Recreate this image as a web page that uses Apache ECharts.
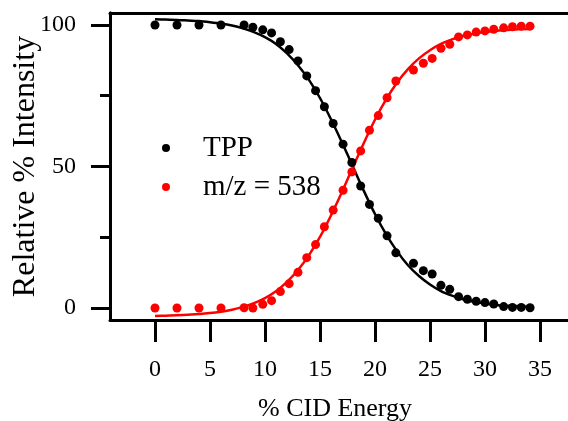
<!DOCTYPE html>
<html>
<head>
<meta charset="utf-8">
<script src="https://cdn.jsdelivr.net/npm/echarts@6/dist/echarts.min.js"></script>
<style>
  html, body { margin: 0; padding: 0; background: #fff; }
  #chart { width: 568px; height: 421px; }
</style>
</head>
<body>
<div id="chart"></div>
<script>
// Collision energy (%) at which each spectrum was recorded
const energy = [0, 2, 4, 6, 8.1, 8.9, 9.8, 10.6, 11.4, 12.2, 13.0, 13.8, 14.6, 15.4, 16.2, 17.1, 17.9, 18.7,
                19.5, 20.3, 21.1, 21.9, 23.5, 24.4, 25.2, 26.0, 26.8, 27.6, 28.4, 29.2, 30.0, 30.8, 31.7, 32.5, 33.3, 34.1];
// Relative intensity of the precursor (TPP)
const tpp = [100, 100, 100, 100, 100, 99.2, 98.3, 97.2, 94.1, 91.3, 87.3, 82.0, 76.8, 71.1, 65.2, 57.9, 51.4, 43.1,
             36.6, 31.7, 25.5, 19.5, 15.8, 13.2, 12.0, 8.0, 6.6, 4.0, 3.1, 2.4, 1.9, 1.4, 0.5, 0.2, 0.2, 0.1];
// Relative intensity of the fragment at m/z 538
const mz538 = [0, 0, 0, 0, 0.1, 0, 1.3, 2.6, 5.8, 8.6, 12.6, 17.8, 22.4, 28.7, 34.6, 41.6, 48.1, 55.5,
               62.8, 68.0, 74.3, 80.2, 84.1, 86.5, 88.2, 91.8, 93.2, 95.8, 96.5, 97.5, 97.9, 98.5, 99.0, 99.4, 99.6, 99.6];

// Sigmoidal fit curves, one value per % energy step
const fitEnergy = [0, 1, 2, 3, 4, 5, 6, 7, 8, 9, 10, 11, 12, 13, 14, 15, 16, 17, 18, 19, 20, 21, 22, 23, 24,
                   25, 26, 27, 28, 29, 30, 31, 32, 33, 34.1];
const tppFit = [102.0, 101.9, 101.8, 101.6, 101.4, 101.0, 100.5, 99.8, 98.8, 97.5, 95.7, 93.3, 90.0, 85.8, 80.6,
                74.2, 66.7, 58.5, 49.9, 41.3, 33.2, 26.1, 20.1, 15.1, 11.3, 8.3, 6.0, 4.4, 3.1, 2.2, 1.6, 1.1, 0.8, 0.6, 0.4];
const mzFit = [-2.8, -2.7, -2.6, -2.4, -2.1, -1.8, -1.3, -0.6, 0.4, 1.7, 3.5, 5.9, 9.2, 13.4, 18.7,
               25.1, 32.7, 41.0, 49.8, 58.4, 66.5, 73.6, 79.6, 84.4, 88.2, 91.1, 93.3, 94.9, 96.1, 96.9, 97.5, 97.9, 98.2, 98.5, 98.6];

const xTicks = [0, 5, 10, 15, 20, 25, 30, 35];
const yTicks = [0, 50, 100];
const yMinorTicks = [25, 75];

const FONT = "'Liberation Serif', 'Times New Roman', serif";
const X_MIN = -4.09, X_MAX = 37.55;
const Y_MIN = -4.24, Y_MAX = 104.24;

const pairs = (xs, ys) => xs.map((x, i) => [x, ys[i]]);

const chart = echarts.init(document.getElementById('chart'), null, { renderer: 'canvas' });

chart.setOption({
  animation: false,
  backgroundColor: '#fff',
  grid: { left: 110, top: 13, right: 0, bottom: 101, containLabel: false, outerBoundsMode: 'none' },
  legend: {
    data: ['TPP', 'm/z = 538'],
    orient: 'vertical',
    left: 157,
    top: 128,
    itemWidth: 8,
    itemHeight: 8,
    itemGap: 9,
    icon: 'circle',
    textStyle: { fontFamily: FONT, fontSize: 29, color: '#000', lineHeight: 30, padding: [0, 0, 0, 28] }
  },
  xAxis: [{
    type: 'value',
    min: X_MIN, max: X_MAX,
    name: '% CID Energy',
    nameLocation: 'middle',
    nameGap: 76,
    nameMoveOverlap: false,
    nameTextStyle: { fontFamily: FONT, fontSize: 26, color: '#000', padding: [0, 8, 0, 0] },
    axisLine: { show: true, onZero: false, lineStyle: { color: '#000', width: 3 } },
    axisTick: { show: true, customValues: xTicks, length: 22, lineStyle: { color: '#000', width: 3 } },
    axisLabel: { show: true, customValues: xTicks, margin: 38, fontFamily: FONT, fontSize: 24, color: '#000' },
    splitLine: { show: false }
  }, {
    type: 'value',
    position: 'top',
    min: X_MIN, max: X_MAX,
    axisLine: { show: true, onZero: false, lineStyle: { color: '#000', width: 3 } },
    axisTick: { show: false },
    axisLabel: { show: false },
    splitLine: { show: false }
  }],
  yAxis: [{
    type: 'value',
    min: Y_MIN, max: Y_MAX,
    name: 'Relative % Intensity',
    nameLocation: 'middle',
    nameGap: 68,
    nameMoveOverlap: false,
    nameTextStyle: { fontFamily: FONT, fontSize: 32, color: '#000', lineHeight: 32 },
    axisLine: { show: true, onZero: false, lineStyle: { color: '#000', width: 3 } },
    axisTick: { show: true, customValues: yTicks, length: 19, lineStyle: { color: '#000', width: 3 } },
    axisLabel: { show: true, customValues: yTicks, margin: 34, fontFamily: FONT, fontSize: 24, color: '#000' },
    splitLine: { show: false }
  }, {
    type: 'value',
    position: 'left',
    min: Y_MIN, max: Y_MAX,
    axisLine: { show: true, onZero: false, lineStyle: { color: '#000', width: 3 } },
    axisTick: { show: true, customValues: yMinorTicks, length: 10, lineStyle: { color: '#000', width: 3 } },
    axisLabel: { show: false },
    splitLine: { show: false }
  }],
  series: [
    {
      name: 'TPP fit', type: 'line', data: pairs(fitEnergy, tppFit),
      smooth: 0.3, showSymbol: false, silent: true,
      lineStyle: { color: '#000', width: 2.5 }, z: 2
    },
    {
      name: 'm/z = 538 fit', type: 'line', data: pairs(fitEnergy, mzFit),
      smooth: 0.3, showSymbol: false, silent: true,
      lineStyle: { color: '#ff0000', width: 2.5 }, z: 2
    },
    {
      name: 'TPP', type: 'scatter', data: pairs(energy, tpp),
      symbol: 'circle', symbolSize: 9, itemStyle: { color: '#000', opacity: 1 }, z: 3
    },
    {
      name: 'm/z = 538', type: 'scatter', data: pairs(energy, mz538),
      symbol: 'circle', symbolSize: 9, itemStyle: { color: '#ff0000', opacity: 1 }, z: 3
    }
  ]
});
</script>
</body>
</html>
